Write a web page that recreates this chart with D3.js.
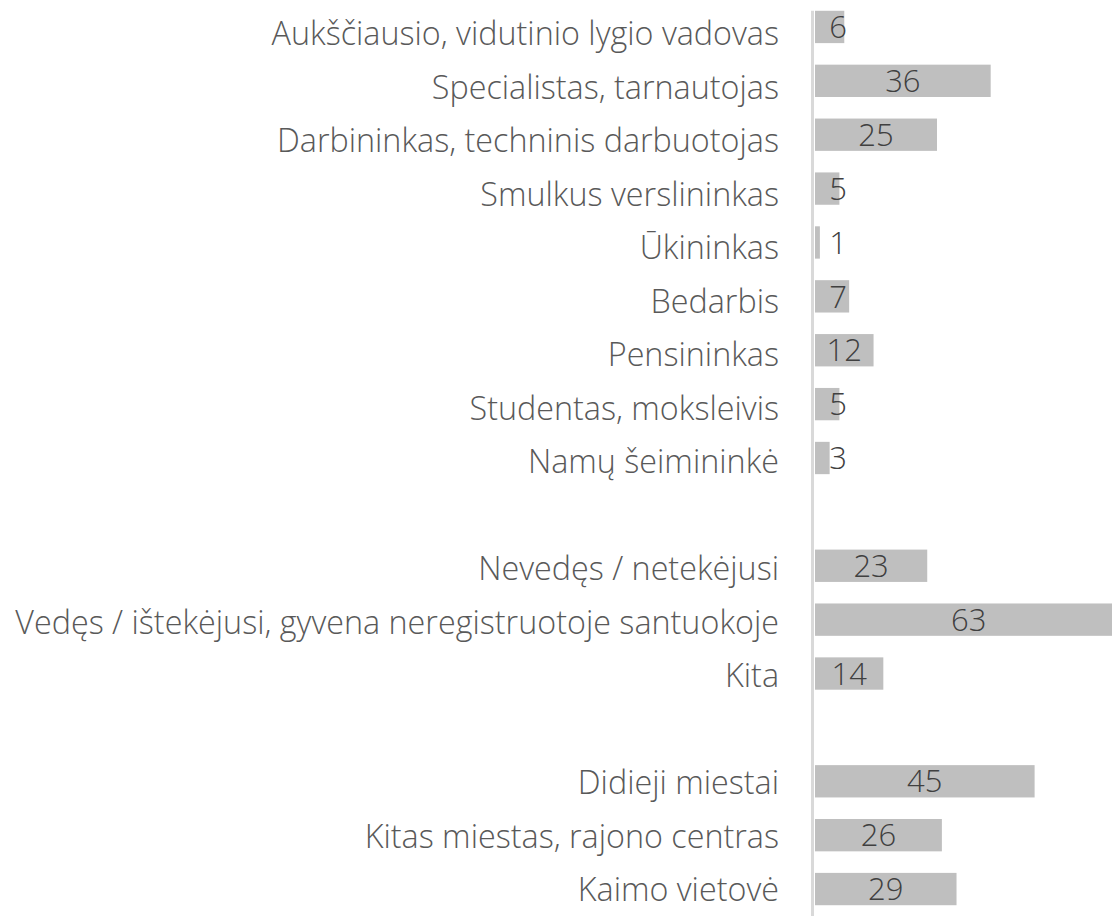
<!DOCTYPE html>
<html>
<head>
<meta charset="utf-8">
<script src="https://cdn.jsdelivr.net/npm/d3@7"></script>
<style>
  html, body { margin: 0; padding: 0; background: #fff; }
  svg { display: block; }
  .cat { font-family: "Open Sans", sans-serif; font-weight: 300; fill: #595959; }
  .val { font-family: "Open Sans", sans-serif; font-weight: 300; fill: #404040; }
</style>
</head>
<body>
<svg width="1112" height="916"></svg>
<script>
// rows in order, "" marks an empty spacer row
const categories = [
  "Aukščiausio, vidutinio lygio vadovas",
  "Specialistas, tarnautojas",
  "Darbininkas, techninis darbuotojas",
  "Smulkus verslininkas",
  "Ūkininkas",
  "Bedarbis",
  "Pensininkas",
  "Studentas, moksleivis",
  "Namų šeimininkė",
  "",
  "Nevedęs / netekėjusi",
  "Vedęs / ištekėjusi, gyvena neregistruotoje santuokoje",
  "Kita",
  "",
  "Didieji miestai",
  "Kitas miestas, rajono centras",
  "Kaimo vietovė"
];
const values = [6, 36, 25, 5, 1, 7, 12, 5, 3, null, 23, 63, 14, null, 45, 26, 29];

const rows = categories.map((c, i) => ({ key: "r" + i, label: c, value: values[i] }));

const svg = d3.select("svg");
const W = 1112, H = 916;

const x = d3.scaleLinear().domain([0, 65]).range([815, 815 + 65 * 4.88]);
const y = d3.scaleBand().domain(rows.map(d => d.key)).range([0, H])
  .paddingInner(0.4).paddingOuter(0.2);
// category text sits a little lower than the bars
const yLab = d3.scalePoint().domain(rows.map(d => d.key)).range([36, 892]);

// axis line
svg.append("line")
  .attr("x1", 812.5).attr("x2", 812.5)
  .attr("y1", y(rows[0].key)).attr("y2", H)
  .attr("stroke", "#d9d9d9").attr("stroke-width", 3);

const data = rows.filter(d => d.value != null);

svg.append("g").selectAll("rect")
  .data(data)
  .join("rect")
  .attr("x", x(0))
  .attr("y", d => y(d.key))
  .attr("width", d => x(d.value) - x(0))
  .attr("height", y.bandwidth())
  .attr("fill", "#bfbfbf");

svg.append("g").selectAll("text")
  .data(data)
  .join("text")
  .attr("class", "val")
  .attr("text-anchor", "middle")
  .attr("font-size", 31)
  .attr("x", d => Math.max((x(d.value) + x(0)) / 2, x(0) + 23))
  .attr("y", d => y(d.key) + y.bandwidth() / 2)
  .attr("dy", "0.36em")
  .text(d => d.value);

svg.append("g").selectAll("text")
  .data(rows.filter(d => d.label))
  .join("text")
  .attr("class", "cat")
  .attr("text-anchor", "end")
  .attr("font-size", 32.3)
  .attr("x", 779)
  .attr("y", d => yLab(d.key))
  .attr("dy", "0.28em")
  .text(d => d.label);
</script>
</body>
</html>
